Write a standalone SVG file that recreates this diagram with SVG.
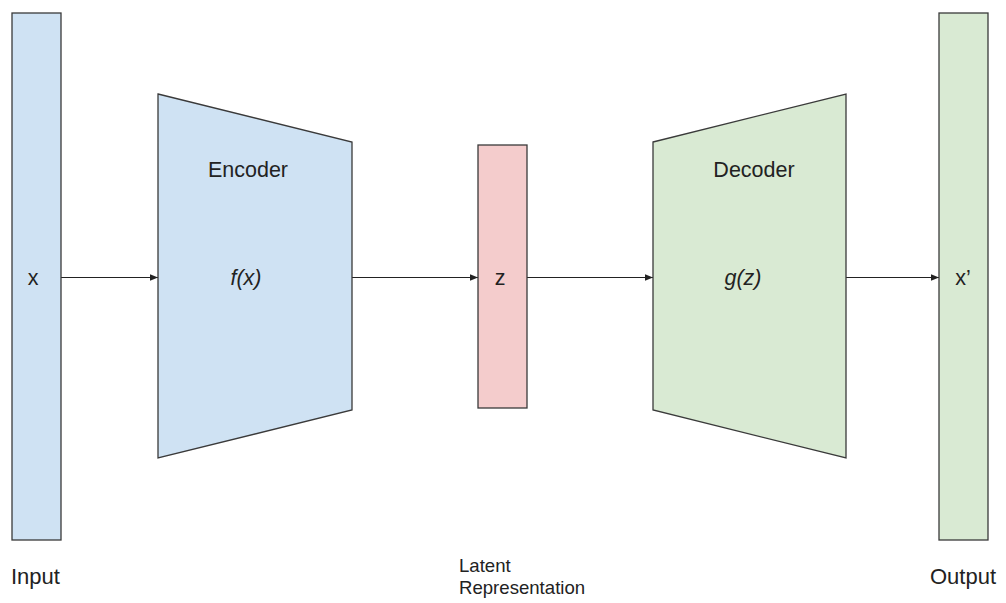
<svg xmlns="http://www.w3.org/2000/svg" width="1006" height="603" viewBox="0 0 1006 603">
<style>
.shape{stroke:#3a3a3a;stroke-width:1.3;stroke-linejoin:miter}
.blue{fill:#cfe2f3}.red{fill:#f4cccc}.green{fill:#d9ead3}
.lbl{font-family:"Liberation Sans",Arial,sans-serif;font-size:21.5px;fill:#222}
.cap{font-family:"Liberation Sans",Arial,sans-serif;font-size:22px;fill:#222}
.it{font-style:italic}
.small{font-family:"Liberation Sans",Arial,sans-serif;font-size:18.6px;fill:#222}
.conn{stroke:#222;stroke-width:1.2;fill:none;marker-end:url(#ah)}
</style>
<defs>
<marker id="ah" viewBox="0 0 10 10" refX="10" refY="5" markerWidth="8" markerHeight="8" markerUnits="userSpaceOnUse" orient="auto">
<path d="M0,1 L10,5 L0,9 Z" fill="#222"/>
</marker>
</defs>
<rect width="1006" height="603" fill="#fff"/>
<g id="connectors">
<line class="conn" x1="61" y1="277.5" x2="158" y2="277.5"/>
<line class="conn" x1="352" y1="277.5" x2="478" y2="277.5"/>
<line class="conn" x1="527" y1="277.5" x2="653" y2="277.5"/>
<line class="conn" x1="846" y1="277.5" x2="939" y2="277.5"/>
</g>
<g id="input">
<rect class="shape blue" x="12" y="13" width="49" height="527"/>
<text class="lbl" x="33" y="285" text-anchor="middle">x</text>
<text class="cap" x="11" y="584">Input</text>
</g>
<g id="encoder">
<polygon class="shape blue" points="158,94 352,142 352,410 158,458"/>
<text class="lbl" x="248" y="177" text-anchor="middle">Encoder</text>
<text class="lbl it" x="246" y="285" text-anchor="middle">f(x)</text>
</g>
<g id="latent">
<rect class="shape red" x="478" y="145" width="49" height="263"/>
<text class="lbl" x="500" y="285" text-anchor="middle">z</text>
<text class="small" x="459" y="572">Latent</text>
<text class="small" x="459" y="594">Representation</text>
</g>
<g id="decoder">
<polygon class="shape green" points="653,142 846,94 846,458 653,410"/>
<text class="lbl" x="754" y="177" text-anchor="middle">Decoder</text>
<text class="lbl it" x="743" y="285" text-anchor="middle">g(z)</text>
</g>
<g id="output">
<rect class="shape green" x="939" y="13" width="49" height="527"/>
<text class="lbl" x="963" y="285" text-anchor="middle">x’</text>
<text class="cap" x="930" y="584">Output</text>
</g>
</svg>
